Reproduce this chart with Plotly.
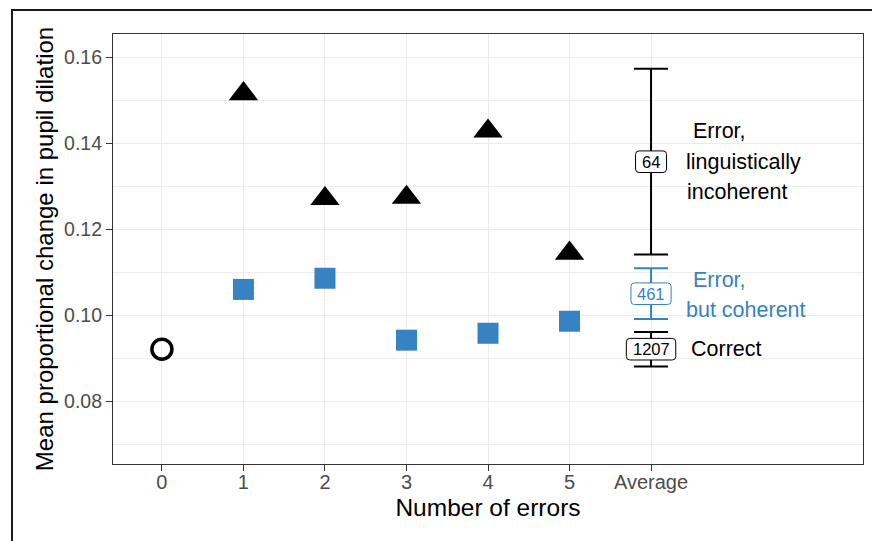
import plotly.graph_objects as go

# ---- data ----
x_labels = ["0", "1", "2", "3", "4", "5", "Average"]
x_pos = [0, 1, 2, 3, 4, 5, 6]

correct_x = [0]
correct_y = [0.0922]

incoherent_x = [1, 2, 3, 4, 5]
incoherent_y = [0.1516, 0.1272, 0.1275, 0.1429, 0.1145]

coherent_x = [1, 2, 3, 4, 5]
coherent_y = [0.1061, 0.1087, 0.0943, 0.0959, 0.0987]

avg_groups = ["incoherent", "coherent", "correct"]
avg_mean = [0.1358, 0.1051, 0.0922]
avg_err = [0.0216, 0.0059, 0.0040]
avg_n = ["64", "461", "1207"]
avg_label_lines = [["Error,", "linguistically", "incoherent"],
                   ["Error,", "but coherent"],
                   ["Correct"]]

BLACK = "#000000"
BLUE = "#3782C2"
avg_colors = [BLACK, BLUE, BLACK]

FONT = "Liberation Sans, Arial, sans-serif"

W, H = 872, 541
ML, MR, MT, MB = 113, 9, 34, 77
PW, PH = W - ML - MR, H - MT - MB

fig = go.Figure()

# average error bars
for i in range(3):
    fig.add_trace(go.Scatter(
        x=[6], y=[avg_mean[i]], mode="markers",
        marker=dict(size=1, color="rgba(0,0,0,0)"),
        error_y=dict(type="data", array=[avg_err[i]], visible=True,
                     color=avg_colors[i], thickness=2, width=17),
        showlegend=False, hoverinfo="skip"))

fig.add_trace(go.Scatter(
    x=incoherent_x, y=incoherent_y, mode="markers",
    marker=dict(symbol="triangle-up", size=25.5, color=BLACK, line=dict(width=0)),
    showlegend=False))
fig.add_trace(go.Scatter(
    x=coherent_x, y=coherent_y, mode="markers",
    marker=dict(symbol="square", size=21, color=BLUE, line=dict(width=0)),
    showlegend=False))
fig.add_trace(go.Scatter(
    x=correct_x, y=correct_y, mode="markers",
    marker=dict(symbol="circle-open", size=20, color=BLACK, line=dict(width=3.5, color=BLACK)),
    showlegend=False))

shapes = []
annotations = []


def rounded_box(a, b, r):
    return (f"M {-a + r},{-b} L {a - r},{-b} Q {a},{-b} {a},{-b + r} "
            f"L {a},{b - r} Q {a},{b} {a - r},{b} L {-a + r},{b} "
            f"Q {-a},{b} {-a},{b - r} L {-a},{-b + r} Q {-a},{-b} {-a + r},{-b} Z")


# count labels on error bars (rounded label boxes + text)
for i in range(3):
    half_w = (len(avg_n[i]) * 9.2 + 12.6) / 2
    shapes.append(dict(
        type="path", xref="x", yref="y", xsizemode="pixel", ysizemode="pixel",
        xanchor=6, yanchor=avg_mean[i], path=rounded_box(half_w, 10.8, 3.5),
        fillcolor="white", line=dict(color=avg_colors[i], width=1), layer="above"))
    annotations.append(dict(
        x=6, y=avg_mean[i], xref="x", yref="y",
        text=avg_n[i], showarrow=False,
        font=dict(family=FONT, size=16.5, color=avg_colors[i]),
        xanchor="center", yanchor="middle"))

# group labels (one annotation per line)
line_gap = 30.7
xshifts = {"Error,": 7, "Correct": 5.5, "incoherent": 1.5}
for i in range(3):
    lines = avg_label_lines[i]
    n = len(lines)
    for j, t in enumerate(lines):
        ys = ((n - 1) / 2 - j) * line_gap
        if i == 1:
            ys -= 1.2
        annotations.append(dict(
            x=6.4, y=avg_mean[i], xref="x", yref="y", text=t, showarrow=False,
            font=dict(family=FONT, size=21.5, color=avg_colors[i]),
            xanchor="left", yanchor="middle", align="left",
            xshift=xshifts.get(t, 0), yshift=ys))


# outer frame (top-left corner of a bordered figure box)
def px_to_paper_x(px):
    return (px - ML) / PW


def px_to_paper_y(py):
    return (H - MB - py) / PH


shapes.append(dict(type="rect", xref="paper", yref="paper",
                   x0=px_to_paper_x(12), x1=px_to_paper_x(W + 20),
                   y0=px_to_paper_y(H + 20), y1=px_to_paper_y(10),
                   line=dict(color="#1a1a1a", width=2), fillcolor="rgba(0,0,0,0)",
                   layer="above"))

fig.update_layout(
    width=W, height=H,
    margin=dict(l=ML, r=MR, t=MT, b=MB, pad=0),
    paper_bgcolor="white", plot_bgcolor="white",
    font=dict(family=FONT, color="#000000"),
    annotations=annotations, shapes=shapes,
    xaxis=dict(
        range=[-0.6, 8.6], tickmode="array", tickvals=x_pos, ticktext=x_labels,
        ticks="outside", ticklen=6, tickwidth=1.1, tickcolor="#333333",
        ticklabelstandoff=-6,
        tickfont=dict(family=FONT, size=20, color="#4D4D4D"),
        showgrid=True, gridcolor="#EBEBEB", gridwidth=1.1, zeroline=False,
        showline=True, linecolor="#333333", linewidth=1.1, mirror=True,
        title=dict(text="Number of errors", font=dict(family=FONT, size=24.5, color="#000000"),
                   standoff=6)),
    yaxis=dict(
        range=[0.0655, 0.1655], tick0=0, dtick=0.02, tickformat=".2f",
        ticks="outside", ticklen=6, tickwidth=1.1, tickcolor="#333333",
        tickfont=dict(family=FONT, size=19.5, color="#4D4D4D"),
        showgrid=True, gridcolor="#EBEBEB", gridwidth=1.1, zeroline=False,
        minor=dict(dtick=0.01, tick0=0, showgrid=True, gridcolor="#EDEDED", gridwidth=0.7, ticklen=0),
        showline=True, linecolor="#333333", linewidth=1.1, mirror=True,
        title=dict(text="Mean proportional change in pupil dilation",
                   font=dict(family=FONT, size=24, color="#000000"), standoff=3)),
)

fig.write_html("out.html")
